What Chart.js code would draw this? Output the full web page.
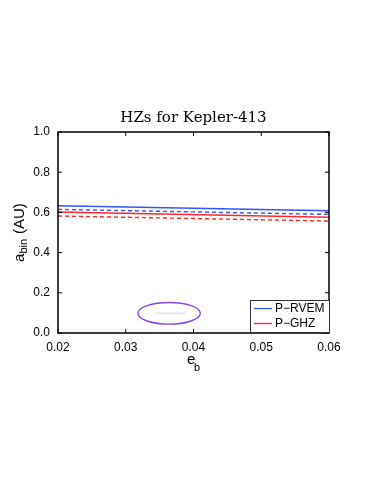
<!DOCTYPE html>
<html>
<head>
<meta charset="utf-8">
<script src="https://cdn.jsdelivr.net/npm/chart.js@4"></script>
<style>
  html, body { margin: 0; padding: 0; background: #fff; }
  #wrap { width: 374px; height: 484px; }
</style>
</head>
<body>
<div id="wrap"><canvas id="myChart" width="374" height="484"></canvas></div>
<script>
// data
let eb = [0.02, 0.06];
let rvemInner = [0.633, 0.608];
let rvemOuter = [0.615, 0.590];
let ghzInner = [0.602, 0.576];
let ghzOuter = [0.582, 0.557];
let xTicks = [0.02, 0.03, 0.04, 0.05, 0.06];
let yTicks = [0.0, 0.2, 0.4, 0.6, 0.8, 1.0];
// the ellipse marker and the grey line in it
let ellipseCenter = [0.0364, 0.098];
let ellipseRadius = [0.0046, 0.054];
let greyX = [0.0345, 0.0388];
let greyY = [0.098, 0.098];

const blue = 'rgb(51, 85, 255)';
const red = 'rgb(255, 40, 40)';

function pts(ys) {
    return eb.map((x, i) => ({ x: x, y: ys[i] }));
}

const data = {
    datasets: [
        { label: 'P\u2212RVEM', data: pts(rvemInner), borderColor: blue, borderWidth: 1.4 },
        { label: 'rvem2', data: pts(rvemOuter), borderColor: blue, borderWidth: 1.4, borderDash: [4, 3] },
        { label: 'P\u2212GHZ', data: pts(ghzInner), borderColor: red, borderWidth: 1.4 },
        { label: 'ghz2', data: pts(ghzOuter), borderColor: red, borderWidth: 1.4, borderDash: [4, 3] },
        { label: 'grey', data: greyX.map((x, i) => ({ x: x, y: greyY[i] })), borderColor: 'rgb(225,225,225)', borderWidth: 1.5 }
    ]
};

const frame = {
    id: 'frame',
    afterDatasetsDraw(chart) {
        const ctx = chart.ctx;
        const a = chart.chartArea;
        const xs = chart.scales.x, ys = chart.scales.y;
        ctx.save();
        // ellipse
        const cx = xs.getPixelForValue(ellipseCenter[0]);
        const cy = ys.getPixelForValue(ellipseCenter[1]);
        const rx = Math.abs(xs.getPixelForValue(ellipseCenter[0] + ellipseRadius[0]) - cx);
        const ry = Math.abs(ys.getPixelForValue(ellipseCenter[1] + ellipseRadius[1]) - cy);
        ctx.strokeStyle = 'rgb(140, 70, 240)';
        ctx.lineWidth = 1.4;
        ctx.beginPath();
        ctx.ellipse(cx, cy, rx, ry, 0, 0, Math.PI * 2);
        ctx.stroke();

        // box
        ctx.strokeStyle = '#000';
        ctx.lineWidth = 1.5;
        ctx.strokeRect(a.left, a.top, a.right - a.left, a.bottom - a.top);
        // inward ticks
        ctx.lineWidth = 1;
        ctx.beginPath();
        xTicks.forEach(v => {
            const px = xs.getPixelForValue(v);
            ctx.moveTo(px, a.bottom); ctx.lineTo(px, a.bottom - 4);
            ctx.moveTo(px, a.top); ctx.lineTo(px, a.top + 4);
        });
        yTicks.forEach(v => {
            const py = ys.getPixelForValue(v);
            ctx.moveTo(a.left, py); ctx.lineTo(a.left + 4, py);
            ctx.moveTo(a.right, py); ctx.lineTo(a.right - 4, py);
        });
        ctx.stroke();

        // legend
        const lx = 250, ly = 300, lw = a.right - 250, lh = a.bottom - 1 - 300;
        ctx.fillStyle = '#fff';
        ctx.fillRect(lx, ly, lw, lh);
        ctx.strokeStyle = '#333';
        ctx.lineWidth = 1;
        ctx.strokeRect(lx + 0.5, ly + 0.5, lw, lh);
        const entries = [[data.datasets[0].label, blue], [data.datasets[2].label, red]];
        ctx.font = '12px "Liberation Sans", Arial, sans-serif';
        ctx.textBaseline = 'middle';
        entries.forEach((e, i) => {
            const yy = ly + 8.5 + i * 15;
            ctx.strokeStyle = e[1];
            ctx.lineWidth = 1.3;
            ctx.beginPath();
            ctx.moveTo(lx + 4, yy); ctx.lineTo(lx + 22, yy);
            ctx.stroke();
            ctx.fillStyle = '#000';
            ctx.fillText(e[0], lx + 25, yy + 0.5);
        });

        // title
        ctx.fillStyle = '#000';
        ctx.textAlign = 'center';
        ctx.textBaseline = 'alphabetic';
        ctx.font = '15px "DejaVu Serif", "Liberation Serif", serif';
        ctx.fillText('HZs for Kepler-413', (a.left + a.right) / 2, 122);

        // x title e_b
        ctx.font = '15px "Liberation Sans", Arial, sans-serif';
        ctx.textAlign = 'left';
        ctx.fillText('e', 187, 364);
        ctx.font = '11px "Liberation Sans", Arial, sans-serif';
        ctx.fillText('b', 194, 371);

        // y title a_bin (AU)
        ctx.translate(23.5, 232);
        ctx.rotate(-Math.PI / 2);
        ctx.font = '15px "Liberation Sans", Arial, sans-serif';
        ctx.fillText('a', -30, 0);
        ctx.font = '11px "Liberation Sans", Arial, sans-serif';
        ctx.fillText('bin', -21.5, 3.5);
        ctx.font = '15px "Liberation Sans", Arial, sans-serif';
        ctx.fillText('(AU)', -2, 0);
        ctx.restore();
    }
};

const config = {
    type: 'line',
    data: data,
    options: {
        responsive: false,
        animation: false,
        layout: { padding: { left: 0, right: 45, top: 132, bottom: 111 } },
        elements: { point: { radius: 0 }, line: { tension: 0 } },
        plugins: { legend: { display: false }, tooltip: { enabled: false } },
        scales: {
            x: {
                type: 'linear', min: 0.02, max: 0.06,
                afterFit: s => { s.height = 40; },
                afterBuildTicks: s => { s.ticks = xTicks.map(v => ({ value: v })); },
                grid: { display: false, drawTicks: false },
                border: { display: false },
                ticks: {
                    color: '#000', padding: 7,
                    font: { family: '"Liberation Sans", Arial, sans-serif', size: 12 },
                    callback: v => v.toFixed(2)
                }
            },
            y: {
                min: 0, max: 1,
                afterFit: s => { s.width = 58; },
                afterBuildTicks: s => { s.ticks = yTicks.map(v => ({ value: v })); },
                grid: { display: false, drawTicks: false },
                border: { display: false },
                ticks: {
                    color: '#000', padding: 8,
                    font: { family: '"Liberation Sans", Arial, sans-serif', size: 12 },
                    callback: v => v.toFixed(1)
                }
            }
        }
    },
    plugins: [frame]
};

let myChart = new Chart(document.getElementById('myChart'), config);
</script>
</body>
</html>
